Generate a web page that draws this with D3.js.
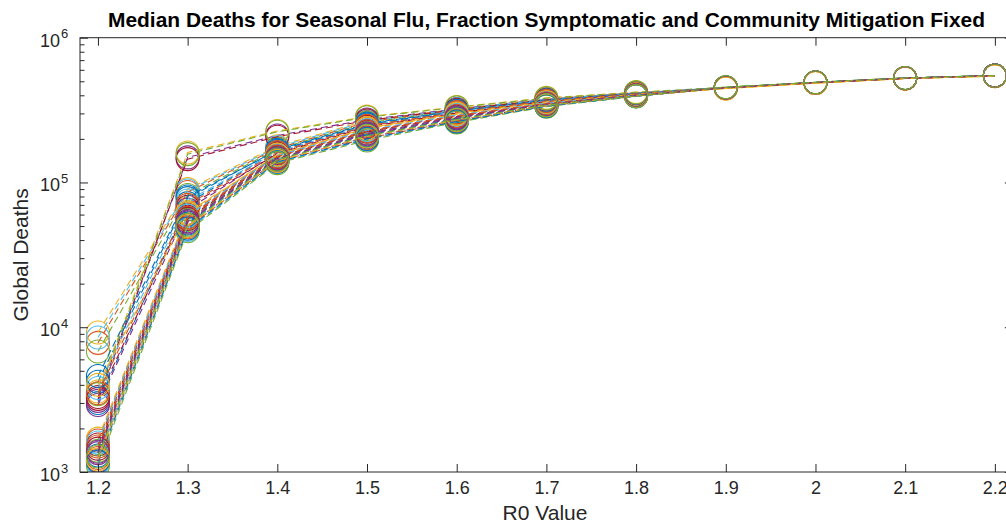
<!DOCTYPE html>
<html><head><meta charset="utf-8">
<script src="https://cdn.jsdelivr.net/npm/d3@7"></script>
<style>body{margin:0;background:#fff}svg{display:block}</style>
</head><body><svg id="c" width="1006" height="523"></svg>
<script>
const r0Values = [1.2, 1.3, 1.4, 1.5, 1.6, 1.7, 1.8, 1.9, 2.0, 2.1, 2.2];
const xTickLabels = ["1.2","1.3","1.4","1.5","1.6","1.7","1.8","1.9","2","2.1","2.2"];
const yTickValues = [1e3, 1e4, 1e5, 1e6];
const yTickExponents = ["3","4","5","6"];
const colorOrder = ["#0072BD","#D95319","#EDB120","#7E2F8E","#77AC30","#4DBEEE","#A2142F"];
const titleText = "Median Deaths for Seasonal Flu, Fraction Symptomatic and Community Mitigation Fixed";
const xLabelText = "R0 Value";
const yLabelText = "Global Deaths";

// median global deaths per series, one value per R0 value
const seriesDeaths = [
  [3000, 72000, 165000, 250000, 310000, 368000, 410000, 452000, 490000, 525000, 547000],
  [7800, 86000, 172000, 262000, 318000, 372000, 412000, 452000, 490000, 525000, 548000],
  [9200, 90000, 178000, 268000, 322000, 376000, 415000, 446000, 486000, 522000, 543000],
  [3100, 149000, 211000, 272000, 322000, 376000, 416000, 452000, 490000, 525000, 547000],
  [6800, 82000, 170000, 258000, 316000, 370000, 411000, 455000, 492000, 527000, 548000],
  [8500, 88000, 175000, 265000, 320000, 374000, 414000, 453000, 491000, 526000, 548000],
  [3300, 145000, 207000, 268000, 318000, 372000, 414000, 451000, 490000, 526000, 548000],
  [4200, 78000, 168000, 255000, 312000, 369000, 411000, 452000, 490000, 525000, 547000],
  [1650, 60000, 155000, 235000, 298000, 358000, 404000, 451000, 489000, 524000, 547000],
  [3600, 161000, 227000, 285000, 332000, 384000, 421000, 447000, 487000, 523000, 544000],
  [2900, 65000, 160000, 245000, 305000, 365000, 408000, 452000, 490000, 525000, 547000],
  [3450, 157000, 224000, 282000, 330000, 382000, 419000, 455000, 492000, 527000, 548000],
  [3800, 75000, 163000, 248000, 308000, 366000, 409000, 453000, 491000, 526000, 548000],
  [3200, 68000, 158000, 242000, 302000, 362000, 407000, 452000, 490000, 525000, 547000],
  [4600, 80000, 166000, 252000, 311000, 368000, 410000, 452000, 490000, 525000, 547000],
  [3500, 70000, 162000, 246000, 306000, 366000, 409000, 451000, 489000, 524000, 546000],
  [4000, 62000, 155000, 238000, 300000, 360000, 405000, 447000, 486000, 522000, 543000],
  [1200, 50000, 142000, 205000, 268000, 340000, 396000, 450000, 489000, 524000, 546000],
  [1400, 55000, 148000, 220000, 280000, 348000, 400000, 455000, 492000, 527000, 548000],
  [1150, 47000, 138000, 198000, 262000, 336000, 394000, 452000, 490000, 525000, 547000],
  [1550, 58000, 152000, 228000, 290000, 352000, 402000, 451000, 490000, 525000, 547000],
  [1300, 52000, 145000, 212000, 275000, 344000, 398000, 451000, 490000, 525000, 547000],
  [1250, 49000, 140000, 202000, 265000, 338000, 395000, 450000, 489000, 524000, 546000],
  [1700, 61000, 156000, 236000, 296000, 356000, 404000, 446000, 486000, 522000, 543000],
  [1350, 53000, 146000, 215000, 278000, 346000, 399000, 451000, 490000, 525000, 547000],
  [1100, 46000, 136000, 195000, 260000, 334000, 393000, 455000, 492000, 527000, 548000],
  [1600, 59000, 153000, 230000, 292000, 354000, 403000, 452000, 490000, 525000, 547000],
  [1450, 56000, 150000, 224000, 285000, 350000, 401000, 451000, 490000, 525000, 547000],
  [1180, 48000, 139000, 200000, 264000, 337000, 394000, 451000, 490000, 525000, 547000],
  [1500, 57000, 151000, 226000, 288000, 351000, 402000, 450000, 489000, 524000, 546000],
  [1220, 50000, 141000, 208000, 270000, 341000, 396000, 446000, 486000, 522000, 543000],
  [1380, 54000, 147000, 218000, 282000, 347000, 400000, 451000, 490000, 525000, 547000],
  [1280, 51000, 144000, 210000, 272000, 343000, 397000, 455000, 492000, 527000, 548000]
];

const L = 80, R = 1012.8, T = 37.7, B = 472;
const axisColor = "#262626";
const font = "'Liberation Sans', Arial, Helvetica, sans-serif";

const svg = d3.select("#c");
const x = d3.scaleLinear().domain([1.18, 2.22]).range([L, R]);
const y = d3.scaleLog().domain([1e3, 1e6]).range([B, T]);

svg.append("defs").append("clipPath").attr("id", "clip")
  .append("rect").attr("x", L).attr("y", T).attr("width", R - L).attr("height", B - T);

const plot = svg.append("g").attr("clip-path", "url(#clip)");
const line = d3.line().x((d, i) => x(r0Values[i])).y(d => y(d));

seriesDeaths.forEach((vals, si) => {
  const col = colorOrder[si % colorOrder.length];
  const g = plot.append("g");
  g.append("path").attr("d", line(vals)).attr("fill", "none")
    .attr("stroke", col).attr("stroke-width", 1.1).attr("stroke-dasharray", "7,4");
  g.selectAll("circle").data(vals).join("circle")
    .attr("cx", (d, i) => x(r0Values[i])).attr("cy", d => y(d))
    .attr("r", 11.5).attr("fill", "none").attr("stroke", col).attr("stroke-width", 1.1);
});

const minorTicks = [];
[1e3, 1e4, 1e5].forEach(base => { for (let k = 2; k <= 9; k++) minorTicks.push(base * k); });

const gx = svg.append("g").attr("transform", `translate(0,${B})`)
  .call(d3.axisBottom(x).tickValues(r0Values).tickSizeInner(-8).tickSizeOuter(0).tickPadding(9)
    .tickFormat((d, i) => xTickLabels[i]));
const gxt = svg.append("g").attr("transform", `translate(0,${T})`)
  .call(d3.axisTop(x).tickValues(r0Values).tickSizeInner(-8).tickSizeOuter(0).tickFormat(""));
const gy = svg.append("g").attr("transform", `translate(${L},0)`)
  .call(d3.axisLeft(y).tickValues(yTickValues).tickSizeInner(-8).tickSizeOuter(0).tickFormat(""));
const gym = svg.append("g").attr("transform", `translate(${L},0)`)
  .call(d3.axisLeft(y).tickValues(minorTicks).tickSizeInner(-4.5).tickSizeOuter(0).tickFormat(""));
const gyr = svg.append("g").attr("transform", `translate(${R},0)`)
  .call(d3.axisRight(y).tickValues(yTickValues).tickSizeInner(-8).tickSizeOuter(0).tickFormat(""));
const gyrm = svg.append("g").attr("transform", `translate(${R},0)`)
  .call(d3.axisRight(y).tickValues(minorTicks).tickSizeInner(-4.5).tickSizeOuter(0).tickFormat(""));

[gx, gxt, gy, gym, gyr, gyrm].forEach(g => {
  g.select(".domain").remove();
  g.selectAll("line").attr("stroke", axisColor).attr("stroke-width", 1);
});
gx.selectAll("text").attr("fill", axisColor).style("font-family", font).style("font-size", "18px");

svg.append("rect").attr("x", L).attr("y", T).attr("width", R - L).attr("height", B - T)
  .attr("fill", "none").attr("stroke", axisColor).attr("stroke-width", 1);

yTickValues.forEach((v, i) => {
  const yy = y(v);
  svg.append("text").attr("x", 60).attr("y", yy + 9).attr("text-anchor", "end")
    .attr("fill", axisColor).style("font-family", font).style("font-size", "18px").text("10");
  svg.append("text").attr("x", 61).attr("y", yy + 0.5).attr("text-anchor", "start")
    .attr("fill", axisColor).style("font-family", font).style("font-size", "13px").text(yTickExponents[i]);
});

svg.append("text").attr("x", 546.5).attr("y", 27).attr("text-anchor", "middle")
  .attr("fill", "#000").style("font-family", font).style("font-size", "19.5px").style("font-weight", "bold")
  .attr("textLength", 877).attr("lengthAdjust", "spacingAndGlyphs").text(titleText);

svg.append("text").attr("x", 545).attr("y", 520).attr("text-anchor", "middle")
  .attr("fill", axisColor).style("font-family", font).style("font-size", "21px").text(xLabelText);
svg.append("text").attr("transform", `translate(28,${(T + B) / 2}) rotate(-90)`).attr("text-anchor", "middle")
  .attr("fill", axisColor).style("font-family", font).style("font-size", "21px").text(yLabelText);
</script></body></html>
